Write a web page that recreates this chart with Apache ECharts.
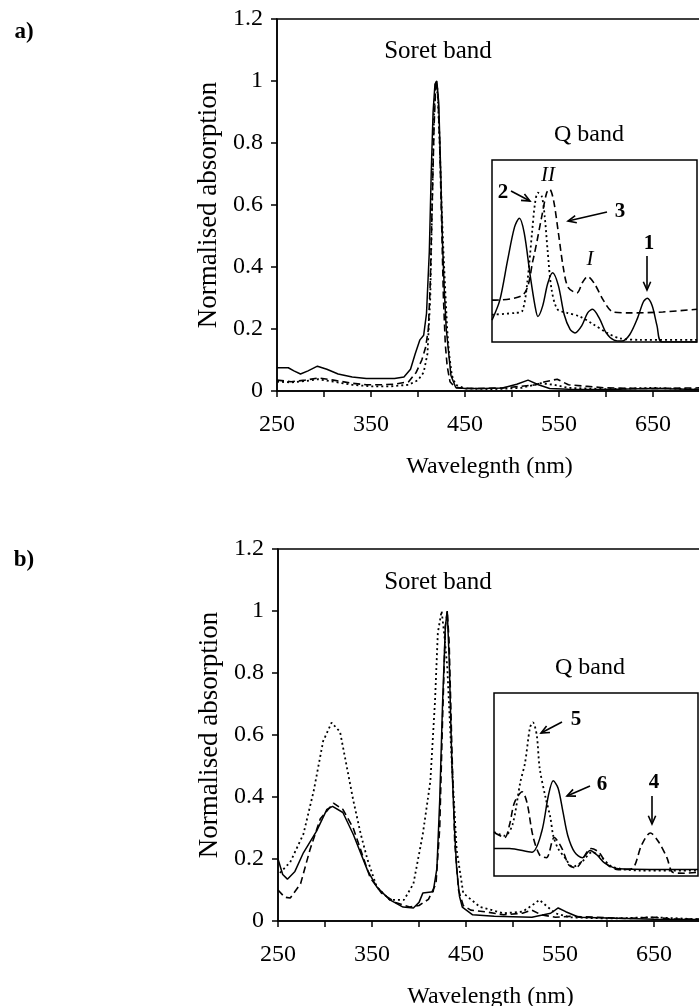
<html>
<head>
<meta charset="utf-8">
<title>Soret and Q band absorption</title>
<script src="https://cdn.jsdelivr.net/npm/echarts@6/dist/echarts.min.js"></script>
<style>html,body{margin:0;padding:0;background:#fff;overflow:hidden}</style>
</head>
<body>
<div id="main" style="width:699px;height:1006px;"></div>
<script>
var FONT = 'Liberation Serif';

// ---- panel a, main spectrum (wavelength nm / normalised absorption)
var aSolidX  = [250,262,268,275,283,293,303,315,330,345,360,375,385,392,397,402,406,409,412,414,416,418,420,422,424,426,428,430,432,435,440,450,470,490,505,517,528,540,560,600,650,700];
var aSolidY  = [0.075,0.075,0.065,0.055,0.065,0.08,0.07,0.055,0.045,0.04,0.04,0.04,0.045,0.07,0.12,0.165,0.18,0.25,0.45,0.7,0.9,0.99,1.0,0.93,0.72,0.48,0.32,0.2,0.14,0.05,0.012,0.008,0.008,0.01,0.022,0.035,0.02,0.008,0.006,0.005,0.008,0.005];
var aDashX   = [250,265,280,294,310,330,345,360,375,390,398,404,408,411,413,415,417,419,421,423,425,427,429,431,434,440,460,490,510,525,535,548,560,580,600,640,700];
var aDashY   = [0.035,0.03,0.035,0.042,0.035,0.025,0.02,0.02,0.022,0.03,0.06,0.1,0.14,0.2,0.35,0.6,0.85,1.0,0.97,0.8,0.55,0.3,0.15,0.08,0.03,0.01,0.008,0.01,0.015,0.02,0.03,0.038,0.02,0.015,0.01,0.008,0.01];
var aDotX    = [250,265,280,294,310,330,350,370,390,400,406,410,413,415,417,419,421,423,425,427,429,431,433,436,440,450,480,510,530,545,560,600,650,700];
var aDotY    = [0.03,0.028,0.032,0.038,0.03,0.02,0.015,0.015,0.02,0.035,0.06,0.12,0.3,0.6,0.9,1.0,0.95,0.8,0.6,0.45,0.32,0.2,0.12,0.05,0.02,0.008,0.006,0.01,0.025,0.02,0.01,0.006,0.01,0.005];

// ---- panel a, Q band inset (relative scale)
var qaSolidX = [490,498,506,513,518,523,529,534,537,542,547,552,558,564,570,575,582,588,593,600,607,615,623,631,639,645,649,654,659,664,700];
var qaSolidY = [0.12,0.23,0.45,0.63,0.68,0.60,0.37,0.20,0.14,0.20,0.32,0.38,0.31,0.15,0.07,0.05,0.09,0.16,0.18,0.13,0.05,0.01,0.005,0.04,0.13,0.22,0.24,0.20,0.09,0.0,0.0];
var qaDotX   = [490,514,521,526,531,534,537,541,544,547,551,557,567,580,593,608,621,642,700];
var qaDotY   = [0.15,0.16,0.17,0.32,0.60,0.76,0.82,0.80,0.69,0.50,0.29,0.18,0.16,0.14,0.10,0.05,0.02,0.012,0.012];
var qaDashX  = [490,522,532,541,546,549,553,558,563,568,577,583,588,595,604,614,631,665,700];
var qaDashY  = [0.23,0.26,0.45,0.69,0.82,0.84,0.78,0.60,0.41,0.30,0.27,0.33,0.36,0.32,0.23,0.165,0.16,0.165,0.18];

// ---- panel b, main spectrum
var bSolidX  = [250,255,260,268,277,291,302,308,319,330,345,355,369,383,394,400,404,415,419,422,425,428,430,432,435,438,440,443,446,457,480,520,540,548,556,570,600,650,700];
var bSolidY  = [0.2,0.15,0.135,0.16,0.22,0.29,0.36,0.37,0.35,0.28,0.165,0.11,0.068,0.045,0.042,0.06,0.09,0.094,0.17,0.39,0.7,0.95,1.0,0.85,0.5,0.28,0.17,0.08,0.045,0.02,0.015,0.012,0.025,0.042,0.03,0.012,0.01,0.006,0.005];
var bDashX   = [250,257,263,274,284,295,309,319,330,348,360,375,390,400,410,418,422,425,428,430,432,435,438,442,447,455,470,490,510,520,530,545,560,590,620,650,670,700];
var bDashY   = [0.1,0.077,0.074,0.12,0.23,0.33,0.38,0.36,0.3,0.14,0.09,0.06,0.045,0.05,0.07,0.12,0.3,0.65,0.95,1.0,0.9,0.55,0.25,0.1,0.05,0.035,0.03,0.02,0.025,0.035,0.02,0.012,0.015,0.012,0.008,0.012,0.006,0.006];
var bDotX    = [252,263,277,288,298,307,316,323,330,338,345,355,369,384,394,404,412,417,420,424,427,430,435,440,447,465,490,510,520,528,535,545,560,600,650,700];
var bDotY    = [0.155,0.19,0.28,0.42,0.58,0.64,0.61,0.5,0.39,0.28,0.2,0.11,0.068,0.068,0.12,0.28,0.45,0.71,0.93,1.0,0.92,0.82,0.5,0.23,0.09,0.045,0.025,0.03,0.05,0.068,0.05,0.025,0.012,0.008,0.012,0.005];

// ---- panel b, Q band inset
var qbSolidX = [490,506,529,539,546,551,556,561,566,573,581,589,596,604,618,700];
var qbSolidY = [0.15,0.15,0.13,0.24,0.44,0.52,0.48,0.35,0.22,0.13,0.10,0.14,0.115,0.07,0.04,0.035];
var qbDotX   = [490,501,509,517,522,527,530,534,537,543,548,551,556,563,571,581,591,601,612,640,700];
var qbDotY   = [0.24,0.22,0.28,0.51,0.62,0.81,0.84,0.77,0.59,0.43,0.32,0.22,0.15,0.10,0.05,0.08,0.13,0.10,0.05,0.03,0.03];
var qbDashX  = [491,501,506,511,519,524,530,537,544,552,560,567,574,590,598,607,618,632,642,651,659,668,674,686,700];
var qbDashY  = [0.235,0.21,0.28,0.40,0.46,0.40,0.22,0.115,0.10,0.21,0.15,0.06,0.045,0.15,0.13,0.06,0.035,0.04,0.17,0.235,0.19,0.10,0.02,0.015,0.02];

var xLabels = [250, 350, 450, 550, 650];

function pairs(xs, ys) {
  return xs.map(function (x, i) { return [x, ys[i]]; });
}

var STYLES = {
  solid:  {type: 'solid', width: 1.5},
  dot:    {type: [2, 3], width: 1.8},
  dash:   {type: [7, 4], width: 1.6}
};

function line(idx, xs, ys, kind, smooth) {
  return {
    type: 'line', xAxisIndex: idx, yAxisIndex: idx,
    data: pairs(xs, ys), showSymbol: false, symbol: 'none',
    smooth: smooth, animation: false,
    lineStyle: Object.assign({color: '#000'}, STYLES[kind])
  };
}

function mainX(idx, title) {
  return {
    gridIndex: idx, type: 'value', min: 250, max: 702, interval: 50,
    axisLine: {lineStyle: {color: '#000', width: 1.5}},
    axisTick: {length: 6, lineStyle: {color: '#000', width: 1.5}},
    axisLabel: {
      color: '#000', fontFamily: FONT, fontSize: 24, margin: 22,
      formatter: function (v) { return xLabels.indexOf(v) >= 0 ? String(v) : ''; }
    },
    splitLine: {show: false},
    name: title, nameLocation: 'middle', nameGap: 64,
    nameTextStyle: {color: '#000', fontFamily: FONT, fontSize: 24}
  };
}
function mainY(idx) {
  return {
    gridIndex: idx, type: 'value', min: 0, max: 1.2, interval: 0.2,
    axisLine: {show: true, lineStyle: {color: '#000', width: 1.5}},
    axisTick: {show: true, length: 6, lineStyle: {color: '#000', width: 1.5}},
    axisLabel: {color: '#000', fontFamily: FONT, fontSize: 24, margin: 14},
    splitLine: {show: false},
    name: 'Normalised absorption', nameLocation: 'middle', nameGap: 51,
    nameTextStyle: {color: '#000', fontFamily: FONT, fontSize: 27}
  };
}
function insetX(idx) {
  return {gridIndex: idx, type: 'value', min: 490, max: 700, show: false};
}
function insetY(idx) {
  return {gridIndex: idx, type: 'value', min: 0, max: 1, show: false};
}

function txt(x, y, s, size, weight, style) {
  return {
    type: 'text', x: x, y: y, silent: true,
    style: {
      text: s, fill: '#000', fontFamily: FONT, fontSize: size,
      fontWeight: weight || 'normal', fontStyle: style || 'normal',
      align: 'center', verticalAlign: 'middle'
    }
  };
}
function arrow(x1, y1, x2, y2) {
  var a = Math.atan2(y2 - y1, x2 - x1), h = 9, s = 0.42;
  return {
    type: 'group', silent: true, children: [
      {type: 'line', shape: {x1: x1, y1: y1, x2: x2, y2: y2}, style: {stroke: '#000', lineWidth: 1.6}},
      {type: 'polyline', shape: {points: [
        [x2 - h * Math.cos(a - s), y2 - h * Math.sin(a - s)], [x2, y2],
        [x2 - h * Math.cos(a + s), y2 - h * Math.sin(a + s)]]},
        style: {stroke: '#000', lineWidth: 1.6, fill: null}}
    ]
  };
}

var chart = echarts.init(document.getElementById('main'));

function box(left, top, width, height) {
  return {
    left: left, top: top, width: width, height: height,
    show: true, borderColor: '#000', borderWidth: 1.5,
    containLabel: false, outerBoundsMode: 'none'
  };
}

var option = {
  backgroundColor: '#fff',
  animation: false,
  grid: [
    box(277, 19, 425, 372),
    box(492, 160, 205, 182),
    box(278, 549, 425, 372),
    box(494, 693, 204, 183)
  ],
  xAxis: [mainX(0, 'Wavelegnth (nm)'), insetX(1), mainX(2, 'Wavelength (nm)'), insetX(3)],
  yAxis: [mainY(0), insetY(1), mainY(2), insetY(3)],
  series: [
    line(0, aSolidX, aSolidY, 'solid', false),
    line(0, aDashX, aDashY, 'dash', false),
    line(0, aDotX, aDotY, 'dot', false),
    line(1, qaSolidX, qaSolidY, 'solid', 0.3),
    line(1, qaDotX, qaDotY, 'dot', 0.3),
    line(1, qaDashX, qaDashY, 'dash', 0.3),
    line(2, bSolidX, bSolidY, 'solid', false),
    line(2, bDashX, bDashY, 'dash', false),
    line(2, bDotX, bDotY, 'dot', false),
    line(3, qbSolidX, qbSolidY, 'solid', 0.3),
    line(3, qbDotX, qbDotY, 'dot', 0.3),
    line(3, qbDashX, qbDashY, 'dash', 0.3)
  ],
  graphic: [
    txt(24, 32, 'a)', 23, 'bold'),
    txt(24, 560, 'b)', 23, 'bold'),
    txt(438, 51, 'Soret band', 25),
    txt(589, 135, 'Q band', 24),
    txt(438, 582, 'Soret band', 25),
    txt(590, 668, 'Q band', 24),
    // inset a annotations
    txt(503, 193, '2', 21, 'bold'),
    arrow(511, 191, 530, 201),
    txt(548, 175, 'II', 21, 'normal', 'italic'),
    txt(620, 212, '3', 21, 'bold'),
    arrow(607, 212, 568, 221),
    txt(590, 259, 'I', 21, 'normal', 'italic'),
    txt(649, 244, '1', 21, 'bold'),
    arrow(647, 256, 647, 290),
    // inset b annotations
    txt(576, 720, '5', 21, 'bold'),
    arrow(562, 722, 541, 733),
    txt(602, 785, '6', 21, 'bold'),
    arrow(590, 786, 567, 796),
    txt(654, 783, '4', 21, 'bold'),
    arrow(652, 796, 652, 824)
  ]
};
chart.setOption(option);
</script>
</body>
</html>
